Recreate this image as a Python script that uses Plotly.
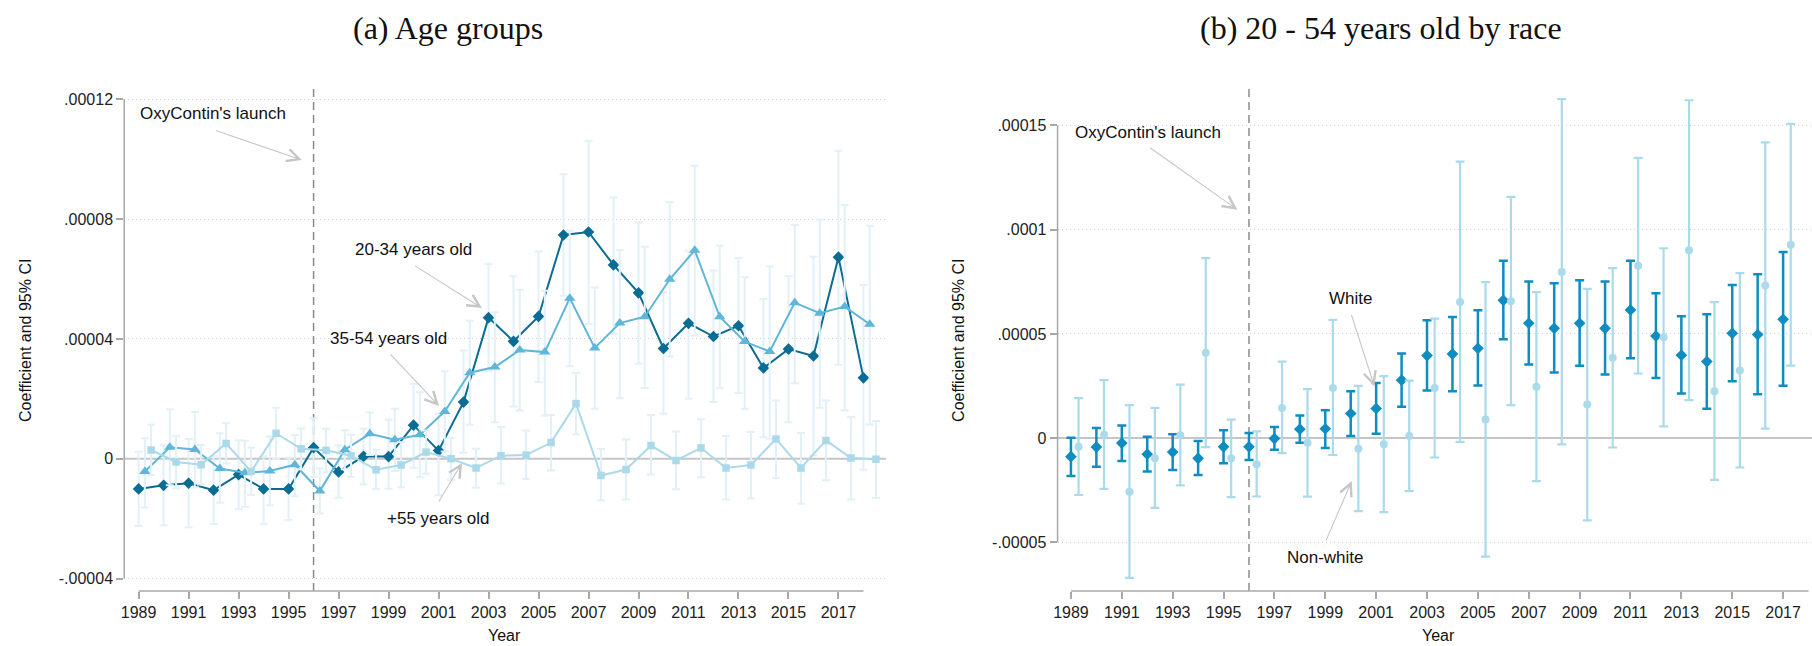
import plotly.graph_objects as go

UNIT = 1e-5

# ---------------- Panel (a): age groups ----------------
years_a = list(range(1989, 2019))
age_20_34 = [-1.01, -0.89, -0.82, -1.05, -0.53, -1.01, -1.01, 0.37, -0.44, 0.08,
             0.07, 1.12, 0.27, 1.89, 4.71, 3.92, 4.75, 7.47, 7.57, 6.47,
             5.54, 3.68, 4.52, 4.08, 4.44, 3.03, 3.66, 3.43, 6.73, 2.70]
age_20_34_lo = [-2.25, -2.22, -2.30, -2.18, -1.69, -2.18, -2.05, -0.60, -1.30, -0.85,
                -1.00, -0.30, -1.22, 0.20, 2.94, 1.74, 2.56, 5.44, 4.50, 4.17,
                3.17, 1.50, 2.00, 1.89, 2.19, 0.72, 1.22, 0.11, 3.14, -0.37]
age_20_34_hi = [0.23, 0.45, 0.66, 0.08, 0.62, 0.07, 0.03, 1.35, 0.45, 1.00,
                1.30, 2.50, 1.50, 3.61, 6.50, 6.09, 6.92, 9.50, 10.61, 8.72,
                7.89, 5.56, 6.94, 6.28, 6.70, 5.33, 6.09, 6.74, 10.28, 5.80]

age_35_54 = [-0.43, 0.38, 0.31, -0.33, -0.47, -0.41, -0.20, -1.08, 0.30, 0.83,
             0.63, 0.80, 1.58, 2.87, 3.06, 3.63, 3.56, 5.36, 3.70, 4.53,
             4.74, 5.99, 6.96, 4.74, 3.91, 3.58, 5.21, 4.86, 5.08, 4.49]
age_35_54_lo = [-1.63, -0.89, -0.95, -1.47, -1.60, -1.55, -1.25, -1.83, -0.35, 0.12,
                -0.41, -0.62, 0.24, 1.13, 1.22, 1.61, 1.44, 3.09, 1.67, 2.02,
                2.36, 3.41, 4.11, 2.36, 1.67, 0.67, 2.52, 1.70, 1.61, 1.14]
age_35_54_hi = [0.68, 1.65, 1.56, 0.85, 0.60, 0.74, 0.79, -0.33, 0.95, 1.54,
                1.67, 2.22, 2.92, 4.61, 4.89, 5.63, 5.61, 7.61, 5.72, 6.97,
                7.08, 8.56, 9.78, 7.11, 6.06, 6.42, 7.80, 7.98, 8.47, 7.78]

age_55p = [0.29, -0.11, -0.20, 0.51, -0.43, 0.85, 0.33, 0.28, 0.10, -0.37,
           -0.21, 0.22, 0.00, -0.31, 0.10, 0.12, 0.54, 1.84, -0.56, -0.36,
           0.44, -0.06, 0.36, -0.31, -0.21, 0.66, -0.31, 0.61, 0.02, -0.02]
age_55p_lo = [-0.55, -0.99, -0.86, -0.16, -1.21, 0.00, -0.35, -0.45, -0.60, -1.00,
              -0.95, -0.50, -0.70, -0.97, -0.83, -0.68, -0.39, 0.82, -1.39, -1.36,
              -0.53, -1.02, -0.62, -1.36, -1.33, -0.64, -1.50, -0.72, -1.36, -1.31]
age_55p_hi = [1.13, 0.76, 0.46, 1.18, 0.37, 1.70, 1.01, 1.00, 0.80, 0.30,
              0.55, 0.94, 0.70, 0.33, 1.06, 0.94, 1.46, 2.86, 0.32, 0.64,
              1.46, 0.91, 1.32, 0.76, 0.89, 1.94, 0.86, 1.94, 1.39, 1.26]

# ---------------- Panel (b): 20-54 by race ----------------
years_b = list(range(1989, 2018))
white = [-0.89, -0.43, -0.24, -0.77, -0.67, -0.97, -0.42, -0.42, -0.02, 0.43,
         0.45, 1.18, 1.42, 2.78, 3.96, 4.04, 4.31, 6.61, 5.51, 5.27,
         5.51, 5.27, 6.15, 4.90, 3.98, 3.67, 5.03, 4.97, 5.70]
white_lo = [-1.82, -1.37, -1.10, -1.60, -1.53, -1.77, -1.20, -1.05, -0.56, -0.22,
            -0.48, 0.10, 0.21, 1.50, 2.28, 2.25, 2.52, 4.74, 3.53, 3.15,
            3.47, 3.05, 3.83, 2.88, 2.14, 1.41, 2.73, 2.11, 2.51]
white_hi = [0.02, 0.48, 0.61, 0.06, 0.18, -0.14, 0.38, 0.24, 0.53, 1.09,
            1.34, 2.25, 2.65, 4.06, 5.65, 5.81, 6.13, 8.51, 7.51, 7.43,
            7.57, 7.51, 8.51, 6.95, 5.85, 5.94, 7.35, 7.86, 8.93]
nonwhite = [-0.42, 0.16, -2.57, -0.96, 0.14, 4.09, -0.96, -1.25, 1.45, -0.22,
            2.41, -0.51, -0.30, 0.10, 2.41, 6.53, 0.89, 6.57, 2.46, 7.97,
            1.61, 3.85, 8.27, 4.84, 9.01, 2.25, 3.24, 7.32, 9.28]
nonwhite_lo = [-2.73, -2.44, -6.71, -3.35, -2.27, -0.43, -2.83, -2.80, -0.72, -2.81,
               -0.81, -3.50, -3.55, -2.54, -0.93, -0.18, -5.69, 1.58, -2.06, -0.30,
               -3.95, -0.45, 3.10, 0.56, 1.82, -2.00, -1.41, 0.46, 3.48]
nonwhite_hi = [1.92, 2.78, 1.58, 1.45, 2.57, 8.64, 0.89, 0.32, 3.67, 2.35,
               5.67, 2.51, 2.97, 2.76, 5.73, 13.27, 7.48, 11.57, 7.00, 16.26,
               7.16, 8.16, 13.45, 9.11, 16.21, 6.52, 7.92, 14.19, 15.08]

xtick_years = list(range(1989, 2018, 2))
ytick_a = [-4, 0, 4, 8, 12]
ytick_a_text = ["-.00004", "0", ".00004", ".00008", ".00012"]
ytick_b = [-5, 0, 5, 10, 15]
ytick_b_text = ["-.00005", "0", ".00005", ".0001", ".00015"]

# ---------------- styling ----------------
C_DARK = "#0a6c93"
C_MID = "#5fb6d8"
C_LIGHT = "#abd9ea"
C_CI = "#e2f0f7"
C_WHITE = "#0f8cc0"
C_NONWHITE = "#abdaea"
AX_GRAY = "#a8a8a8"
ARROW = "#c6c6c6"
SANS = "Liberation Sans, Arial, sans-serif"
SERIF = "Liberation Serif, Times New Roman, serif"


def sc(v):
    return [x * UNIT for x in v]


def shift(v, d):
    return [x + d for x in v]


fig = go.Figure()


def add_ci_line(years, pts, lo, hi, off, color, symbol, msize, xa, ya):
    xs = shift(years, off)
    fig.add_trace(go.Scatter(
        x=xs, y=sc(pts), mode="markers", xaxis=xa, yaxis=ya,
        marker=dict(size=1, opacity=0), showlegend=False, hoverinfo="skip",
        error_y=dict(type="data", symmetric=False,
                     array=[(h - p) * UNIT for h, p in zip(hi, pts)],
                     arrayminus=[(p - l) * UNIT for l, p in zip(lo, pts)],
                     color=C_CI, thickness=2, width=4)))
    fig.add_trace(go.Scatter(
        x=xs, y=sc(pts), mode="lines+markers", xaxis=xa, yaxis=ya,
        line=dict(color=color, width=2),
        marker=dict(symbol=symbol, size=msize, color=color),
        showlegend=False))


add_ci_line(years_a, age_20_34, age_20_34_lo, age_20_34_hi, 0.0, C_DARK, "diamond", 9, "x", "y")
add_ci_line(years_a, age_35_54, age_35_54_lo, age_35_54_hi, 0.25, C_MID, "triangle-up", 10, "x", "y")
add_ci_line(years_a, age_55p, age_55p_lo, age_55p_hi, 0.5, C_LIGHT, "square", 7.5, "x", "y")


def add_ci_points(years, pts, lo, hi, off, color, symbol, msize, thick):
    xs = shift(years, off)
    fig.add_trace(go.Scatter(
        x=xs, y=sc(pts), mode="markers", xaxis="x2", yaxis="y2",
        marker=dict(symbol=symbol, size=msize, color=color),
        showlegend=False,
        error_y=dict(type="data", symmetric=False,
                     array=[(h - p) * UNIT for h, p in zip(hi, pts)],
                     arrayminus=[(p - l) * UNIT for l, p in zip(lo, pts)],
                     color=color, thickness=thick, width=4.5)))


add_ci_points(years_b, white, white_lo, white_hi, 0.0, C_WHITE, "diamond", 9, 2.5)
add_ci_points(years_b, nonwhite, nonwhite_lo, nonwhite_hi, 0.3, C_NONWHITE, "circle", 8, 2.2)

# ---------------- axes ----------------
ydom = [1 - 591 / 646, 1 - 89 / 646]
common_x = dict(tickvals=xtick_years, ticktext=[str(y) for y in xtick_years],
                ticks="outside", ticklen=7, tickwidth=1.5, tickcolor=AX_GRAY,
                showgrid=False, zeroline=False, showline=False,
                tickfont=dict(family=SANS, size=16, color="#222222"))
common_y = dict(ticks="outside", ticklen=7, tickwidth=1.5, tickcolor=AX_GRAY,
                showgrid=True, gridcolor="#cfcfcf", gridwidth=1, griddash="1px,3px",
                zeroline=False, showline=False,
                tickfont=dict(family=SANS, size=16, color="#222222"))

fig.update_layout(
    width=1812, height=646, margin=dict(l=0, r=0, t=0, b=0),
    paper_bgcolor="white", plot_bgcolor="white", showlegend=False,
    xaxis=dict(domain=[120.5 / 1812, 884 / 1812], range=[1988.425, 2018.904], **common_x),
    yaxis=dict(domain=ydom, range=[-4.417 * UNIT, 12.344 * UNIT],
               tickvals=sc(ytick_a), ticktext=ytick_a_text, **common_y),
    xaxis2=dict(domain=[1055.9 / 1812, 1.0], range=[1988.474, 2018.136], anchor="y2", **common_x),
    yaxis2=dict(domain=ydom, range=[-7.335 * UNIT, 16.75 * UNIT], anchor="x2",
                tickvals=sc(ytick_b), ticktext=ytick_b_text, **common_y),
)

shapes = []
for xa, ya, ylo, yhi in [("x", "y", -4, 12), ("x2", "y2", -5, 15)]:
    # zero line
    shapes.append(dict(type="line", xref=f"{xa} domain", yref=ya, x0=0, x1=1, y0=0, y1=0,
                       line=dict(color="#c4c4c4", width=2), layer="below"))
    # OxyContin launch
    shapes.append(dict(type="line", xref=xa, yref=f"{ya} domain", x0=1996, x1=1996, y0=0, y1=1,
                       line=dict(color="#8a8a8a", width=1.5, dash="8px,5px"), layer="below"))
    # y axis line
    shapes.append(dict(type="line", xref=f"{xa} domain", yref=ya, x0=0, x1=0,
                       y0=ylo * UNIT, y1=yhi * UNIT, line=dict(color=AX_GRAY, width=1.5)))
    # x axis line
    shapes.append(dict(type="line", xref=xa, yref=f"{ya} domain", x0=1989, x1=2018, y0=0, y1=0,
                       line=dict(color=AX_GRAY, width=1.5)))
fig.update_layout(shapes=shapes)

ann = []


def label(xa, ya, x, y, text):
    ann.append(dict(xref=xa, yref=ya, x=x, y=y * UNIT, text=text, showarrow=False,
                    font=dict(family=SANS, size=17, color="#111111"),
                    xanchor="center", yanchor="middle"))


def arrow(xa, ya, x0, y0, x1, y1):
    ann.append(dict(xref=xa, yref=ya, axref=xa, ayref=ya, x=x1, y=y1 * UNIT,
                    ax=x0, ay=y0 * UNIT, text="", showarrow=True, arrowhead=5,
                    arrowsize=2.2, arrowwidth=1.1, arrowcolor=ARROW,
                    standoff=0, startstandoff=0))


# panel a annotations
label("x", "y", 1991.96, 11.51, "OxyContin's launch")
arrow("x", "y", 1992.03, 10.975, 1995.53, 9.97)
label("x", "y", 2000.0, 7.0, "20-34 years old")
arrow("x", "y", 2000.0, 6.47, 2002.74, 5.03)
label("x", "y", 1998.98, 4.0, "35-54 years old")
arrow("x", "y", 1999.02, 3.53, 2001.02, 1.76)
label("x", "y", 2000.98, -2.0, "+55 years old")
arrow("x", "y", 2000.98, -1.48, 2001.94, -0.14)

# panel b annotations
label("x2", "y2", 1992.01, 14.655, "OxyContin's launch")
arrow("x2", "y2", 1992.05, 13.98, 1995.54, 10.96)
label("x2", "y2", 2000.01, 6.70, "White")
arrow("x2", "y2", 2000.01, 5.98, 2000.93, 2.49)
label("x2", "y2", 1999.0, -5.73, "Non-white")
arrow("x2", "y2", 1999.0, -4.99, 2000.04, -2.06)

# titles
for x, text in [(445 / 1812, "(a) Age groups"), (1380 / 1812, "(b) 20 - 54 years old by race")]:
    ann.append(dict(xref="paper", yref="paper", x=x, y=1 - 28 / 646, text=text, showarrow=False,
                    font=dict(family=SERIF, size=32, color="#111111"),
                    xanchor="center", yanchor="middle"))
# axis titles
for x, y, text, ang, yanc in [(21 / 1812, 1 - 340 / 646, "Coefficient and 95% CI", -90, "middle"),
                              (956 / 1812, 1 - 340 / 646, "Coefficient and 95% CI", -90, "middle"),
                              (502 / 1812, 1 / 646, "Year", 0, "bottom"),
                              (1438 / 1812, 1 / 646, "Year", 0, "bottom")]:
    ann.append(dict(xref="paper", yref="paper", x=x, y=y, text=text, showarrow=False,
                    textangle=ang, font=dict(family=SANS, size=16, color="#111111"),
                    xanchor="center", yanchor=yanc, borderpad=0))

fig.update_layout(annotations=ann)
fig.write_html("out.html", config={"displayModeBar": False},
               post_script="document.body.style.margin='0px';document.body.style.overflow='hidden';")
